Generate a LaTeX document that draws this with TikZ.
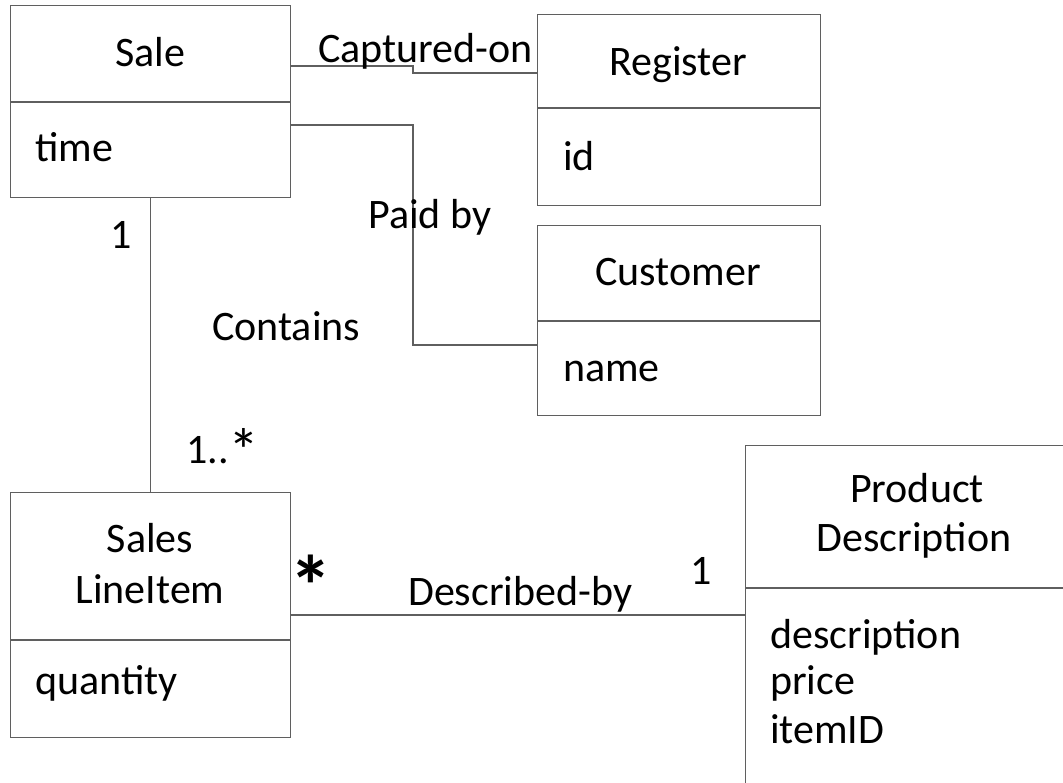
\documentclass[tikz,border=0pt]{standalone}
\usepackage{fontspec}
\setmainfont{Carlito}
\definecolor{linegray}{RGB}{95,95,95}
\begin{document}
\begin{tikzpicture}[x=1pt,y=-1pt,
  box/.style={draw=linegray, line width=1.3pt, anchor=north west, inner sep=0pt},
  conn/.style={draw=linegray, line width=1.3pt},
  lbl/.style={font=\fontsize{42}{50}\selectfont, inner sep=0pt, text=black}]
\clip (0,0) rectangle (1063,782);
\fill[white] (0,0) rectangle (1063,782);
% boxes
\node[box, minimum width=280pt, minimum height=192pt] (sale) at (10,5) {};
\node[box, minimum width=283pt, minimum height=191pt] (reg) at (537,14) {};
\node[box, minimum width=283pt, minimum height=190pt] (cust) at (537,225) {};
\node[box, minimum width=280pt, minimum height=245pt] (sli) at (10,492) {};
\node[box, minimum width=400pt, minimum height=400pt] (pd) at (745,445) {};
% dividers
\draw[conn] (sale.west |- 0,102) -- (sale.east |- 0,102);
\draw[conn] (reg.west |- 0,108) -- (reg.east |- 0,108);
\draw[conn] (cust.west |- 0,321) -- (cust.east |- 0,321);
\draw[conn] (sli.west |- 0,640) -- (sli.east |- 0,640);
\draw[conn] (pd.west |- 0,588) -- (pd.east |- 0,588);
% box texts
\node[lbl, anchor=base] (saleT) at (150,66) {Sale};
\node[lbl, anchor=base west] (saleA) at (35,161) {time};
\node[lbl, anchor=base] (regT) at (678,75) {Register};
\node[lbl, anchor=base west] (regA) at (563,170) {id};
\node[lbl, anchor=base] (custT) at (678,285) {Customer};
\node[lbl, anchor=base west] (custA) at (563,381) {name};
\node[lbl, anchor=base] (sliT1) at (150,552) {Sales};
\node[lbl, anchor=base] (sliT2) at (150,603) {LineItem};
\node[lbl, anchor=base west] (sliA) at (35,694) {quantity};
\node[lbl, anchor=base] (pdT1) at (917,502) {Product};
\node[lbl, anchor=base] (pdT2) at (914,551) {Description};
\node[lbl, anchor=base west] (pdA1) at (770,648) {description};
\node[lbl, anchor=base west] (pdA2) at (770,694) {price};
\node[lbl, anchor=base west] (pdA3) at (770,743) {itemID};
% connectors
\draw[conn] (sale.east |- 0,66) -- (413,66) -- (413,73) -- (reg.west |- 0,73);
\draw[conn] (sale.east |- 0,125) -- (413,125) -- (413,345) -- (cust.west |- 0,345);
\draw[conn] (sale.south) -- (sli.north);
\draw[conn] (sli.east |- 0,615) -- (pd.west |- 0,615);
% connector labels
\node[lbl, anchor=base west] (capL) at (318,62) {Captured-on};
\node[lbl, anchor=base west] (paidL) at (368,228) {Paid by};
\node[lbl, anchor=base west] (contL) at (212,340) {Contains};
\node[lbl, anchor=base west] (m1) at (110,248) {1};
\node[lbl, anchor=base west] (m2) at (186,463) {1..\raisebox{-9pt}{\fontsize{62}{62}\selectfont *}};
\node[lbl, anchor=north, font=\fontsize{86}{86}\selectfont\bfseries] (m3) at (311,555) {*};
\node[lbl, anchor=base west] (descL) at (408,605) {Described-by};
\node[lbl, anchor=base west] (m4) at (690,584) {1};
\end{tikzpicture}
\end{document}
